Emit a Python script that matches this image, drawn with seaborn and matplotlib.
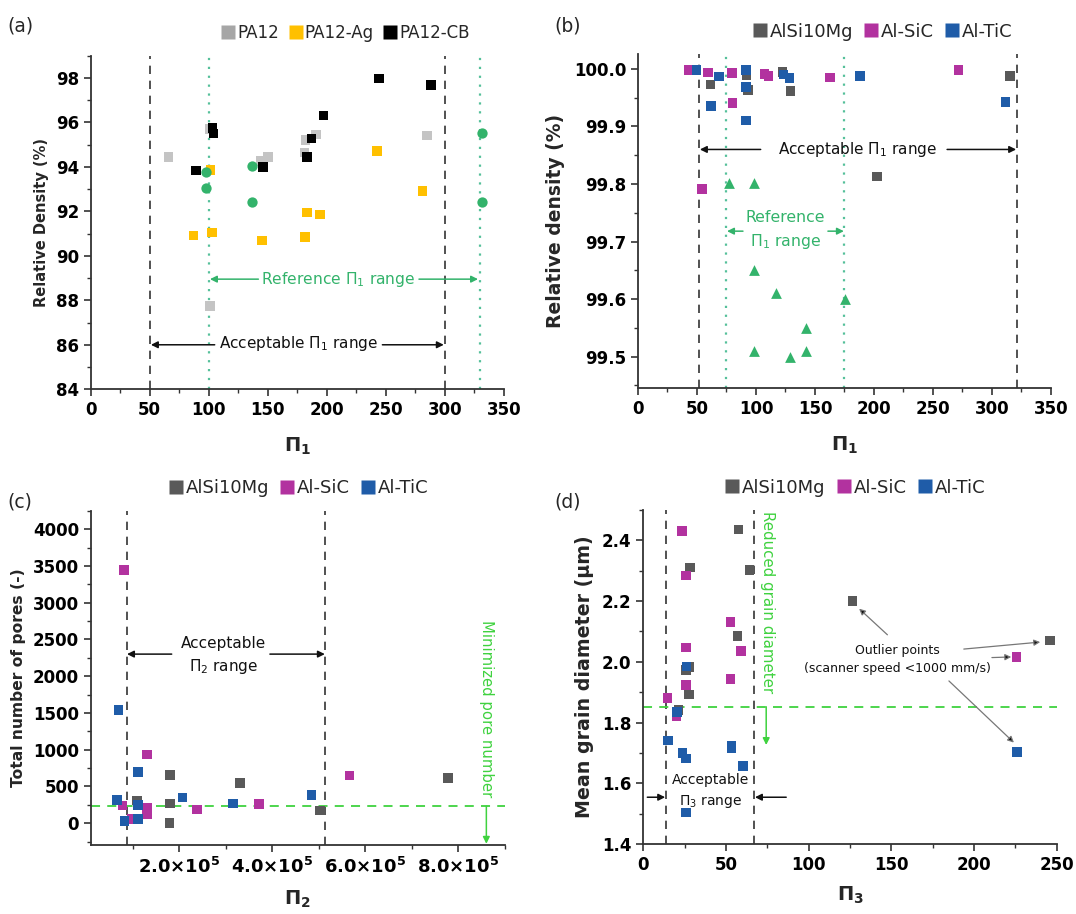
import numpy as np
import pandas as pd
import matplotlib
matplotlib.use("Agg")
import matplotlib.pyplot as plt
from matplotlib.lines import Line2D
from matplotlib.ticker import MultipleLocator, FixedLocator
import seaborn as sns

# ---------------- data ----------------
# panel (a)
pa12_x = [66, 101, 144, 150, 181, 182, 191, 285, 101]
pa12_y = [94.45, 95.7, 94.25, 94.45, 94.65, 95.2, 95.45, 95.4, 87.75]
pa12ag_x = [87, 102.5, 101.5, 145, 183, 181.5, 194, 242.5, 281]
pa12ag_y = [90.92, 91.05, 93.85, 90.68, 91.95, 90.85, 91.85, 94.72, 92.9]
pa12cb_x = [89, 103, 104, 146, 183, 187, 197, 244, 288]
pa12cb_y = [93.84, 95.75, 95.5, 93.98, 94.45, 95.28, 96.3, 97.97, 97.68]
ref_a_x = [98, 98, 136.5, 136.5, 331, 331]
ref_a_y = [93.75, 93.05, 94.03, 92.42, 95.52, 92.42]

# panel (b)
alsi_b_x = [61.6, 92.1, 93.2, 122.6, 129.4, 202.8, 315.3]
alsi_b_y = [99.973, 99.989, 99.963, 99.995, 99.962, 99.813, 99.988]
sic_b_x = [43.5, 59.3, 79.7, 80.2, 107.3, 110.7, 162.7, 271.8, 54.2]
sic_b_y = [99.998, 99.994, 99.993, 99.941, 99.991, 99.988, 99.985, 99.998, 99.791]
tic_b_x = [49.7, 68.9, 62.1, 91.5, 91.5, 91.5, 123.2, 128.5, 188.1, 311.6]
tic_b_y = [99.998, 99.987, 99.936, 99.998, 99.968, 99.910, 99.990, 99.984, 99.988, 99.942]
ref_b_x = [77.4, 98.6, 98.6, 116.9, 175.2, 142.1, 98.6, 128.6, 142.1]
ref_b_y = [99.801, 99.801, 99.651, 99.610, 99.600, 99.549, 99.510, 99.500, 99.510]

# panel (c)
alsi_c_x = [1.09e5, 1.80e5, 1.80e5, 1.79e5, 3.31e5, 5.03e5, 7.77e5]
alsi_c_y = [310, 652, 266, 4, 550, 173, 618]
sic_c_x = [0.81e5, 0.78e5, 0.98e5, 1.31e5, 1.31e5, 1.31e5, 2.39e5, 3.72e5, 5.66e5]
sic_c_y = [3441, 241, 60, 933, 206, 123, 187, 264, 650]
tic_c_x = [0.70e5, 0.67e5, 0.83e5, 1.12e5, 1.12e5, 1.12e5, 2.07e5, 3.16e5, 4.84e5]
tic_c_y = [1538, 314, 31, 693, 245, 57, 348, 268, 386]

# panel (d)
alsi_d_x = [57.5, 28.1, 57.0, 25.7, 27.7, 27.7, 21.3, 64.3, 126.5, 246]
alsi_d_y = [2.436, 2.311, 2.086, 1.974, 1.983, 1.892, 1.842, 2.303, 2.200, 2.070]
sic_d_x = [23.3, 25.7, 25.7, 25.7, 14.5, 20.1, 52.6, 52.6, 58.9, 225.7]
sic_d_y = [2.431, 2.284, 2.047, 1.924, 1.880, 1.820, 2.132, 1.943, 2.036, 2.016]
tic_d_x = [26.1, 20.5, 14.9, 23.7, 25.9, 25.7, 53.4, 53.4, 60.1, 226.1]
tic_d_y = [1.985, 1.835, 1.741, 1.700, 1.681, 1.504, 1.725, 1.714, 1.656, 1.703]

pa_labels = ["PA12", "PA12-Ag", "PA12-CB"]
al_labels = ["AlSi10Mg", "Al-SiC", "Al-TiC"]
c_xticks = [2e5, 4e5, 6e5, 8e5]
c_xticklabels = [r"2.0×10$^{\mathbf{5}}$", r"4.0×10$^{\mathbf{5}}$",
                 r"6.0×10$^{\mathbf{5}}$", r"8.0×10$^{\mathbf{5}}$"]

# ---------------- style ----------------
sns.set_theme(style="ticks")
plt.rcParams["font.family"] = ["DejaVu Sans"]
plt.rcParams["mathtext.fontset"] = "dejavusans"
plt.rcParams["axes.linewidth"] = 1.3
plt.rcParams["axes.edgecolor"] = "#333333"

pa_colors = {"PA12": "#c4c4c4", "PA12-Ag": "#ffc000", "PA12-CB": "#000000"}
pa_leg_colors = {"PA12": "#a6a6a6", "PA12-Ag": "#ffc000", "PA12-CB": "#000000"}
al_colors = {"AlSi10Mg": "#595959", "Al-SiC": "#b2329f", "Al-TiC": "#1f5ca8"}
ref_green = "#33b36b"
dot_green = "#55c09a"
lime = "#3fd23f"

TICK_FS = 12
ANN_FS = 11
fig = plt.figure(figsize=(10.76, 9.14), dpi=100)
ax_a = fig.add_axes([0.0843, 0.5741, 0.3841, 0.3651])
ax_b = fig.add_axes([0.5929, 0.5752, 0.3838, 0.3658])
ax_c = fig.add_axes([0.0843, 0.0752, 0.3850, 0.3660])
ax_d = fig.add_axes([0.5979, 0.0766, 0.3842, 0.3654])


def style_ax(ax):
    sns.despine(ax=ax)
    ax.tick_params(axis="both", which="major", direction="out", length=5, width=1.2,
                   labelsize=TICK_FS, colors="#333333", labelcolor="black")
    ax.tick_params(axis="both", which="minor", direction="out", length=3, width=1.0,
                   colors="#333333")
    for lab in ax.get_xticklabels() + ax.get_yticklabels():
        lab.set_fontweight("bold")


def legend_top(ax, labels, colors, xc, fs, y=1.04):
    handles = [Line2D([0], [0], marker="s", color="none", markerfacecolor=colors[l],
                      markeredgecolor="none", markersize=10.5) for l in labels]
    ax.legend(handles, labels, loc="lower center", bbox_to_anchor=(xc, y), ncol=3,
              frameon=False, fontsize=fs, handletextpad=0.05, columnspacing=0.5,
              borderaxespad=0, handlelength=1.0, borderpad=0)


def harrow(ax, x0, x1, y, color, lw=1.1):
    ax.annotate("", xy=(x1, y), xytext=(x0, y),
                arrowprops=dict(arrowstyle="-|>", color=color, lw=lw,
                                mutation_scale=10, shrinkA=0, shrinkB=0))


# ---------------- (a) ----------------
df_a = pd.DataFrame({
    "x": pa12_x + pa12ag_x + pa12cb_x,
    "y": pa12_y + pa12ag_y + pa12cb_y,
    "mat": ["PA12"] * len(pa12_x) + ["PA12-Ag"] * len(pa12ag_x) + ["PA12-CB"] * len(pa12cb_x),
})
sns.scatterplot(data=df_a, x="x", y="y", hue="mat", hue_order=pa_labels, palette=pa_colors,
                marker="s", s=48, linewidth=0, legend=False, ax=ax_a, zorder=3)
sns.scatterplot(x=ref_a_x, y=ref_a_y, color=ref_green, marker="o", s=55, linewidth=0,
                legend=False, ax=ax_a, zorder=4)
ax_a.set_xlim(0, 350)
ax_a.set_ylim(84, 99)
ax_a.xaxis.set_major_locator(MultipleLocator(50))
ax_a.xaxis.set_minor_locator(MultipleLocator(25))
ax_a.yaxis.set_major_locator(FixedLocator([84, 86, 88, 90, 92, 94, 96, 98]))
ax_a.yaxis.set_minor_locator(MultipleLocator(1))
for xv in (50, 300):
    ax_a.axvline(xv, color="#333333", ls=(0, (5, 4)), lw=1.2, zorder=1)
for xv in (100, 330):
    ax_a.axvline(xv, color=dot_green, ls=(0, (1, 3)), lw=1.6, zorder=1)
ax_a.text(210, 88.95, "Reference Π$_1$ range", color=ref_green, fontsize=ANN_FS + 0.2,
          ha="center", va="center")
harrow(ax_a, 142, 101, 88.95, ref_green)
harrow(ax_a, 278, 328, 88.95, ref_green)
ax_a.text(176, 86.05, "Acceptable Π$_1$ range", color="#111111", fontsize=ANN_FS,
          ha="center", va="center")
harrow(ax_a, 105, 51, 86.0, "#111111")
harrow(ax_a, 247, 299, 86.0, "#111111")
ax_a.set_xlabel("Π$_\\mathbf{1}$", fontsize=14, fontweight="bold", labelpad=12)
ax_a.set_ylabel("Relative Density (%)", fontsize=10.5, fontweight="bold", labelpad=5)
style_ax(ax_a)
legend_top(ax_a, pa_labels, pa_leg_colors, 0.615, 12)
fig.text(0.007, 0.965, "(a)", fontsize=13.5)

# ---------------- (b) ----------------
df_b = pd.DataFrame({
    "x": alsi_b_x + sic_b_x + tic_b_x,
    "y": alsi_b_y + sic_b_y + tic_b_y,
    "mat": ["AlSi10Mg"] * len(alsi_b_x) + ["Al-SiC"] * len(sic_b_x) + ["Al-TiC"] * len(tic_b_x),
})
sns.scatterplot(data=df_b, x="x", y="y", hue="mat", hue_order=al_labels, palette=al_colors,
                marker="s", s=48, linewidth=0, legend=False, ax=ax_b, zorder=3)
sns.scatterplot(x=ref_b_x, y=ref_b_y, color=ref_green, marker="^", s=60, linewidth=0,
                legend=False, ax=ax_b, zorder=4)
ax_b.set_xlim(0, 350)
ax_b.set_ylim(99.445, 100.026)
ax_b.xaxis.set_major_locator(MultipleLocator(50))
ax_b.xaxis.set_minor_locator(MultipleLocator(25))
ax_b.yaxis.set_major_locator(FixedLocator([99.5, 99.6, 99.7, 99.8, 99.9, 100.0]))
ax_b.yaxis.set_minor_locator(FixedLocator([99.45, 99.55, 99.65, 99.75, 99.85, 99.95]))
ax_b.yaxis.set_major_formatter(plt.FormatStrFormatter("%.1f"))
for xv in (52, 321):
    ax_b.axvline(xv, color="#333333", ls=(0, (5, 4)), lw=1.2, zorder=1)
for xv in (75, 175):
    ax_b.axvline(xv, color=dot_green, ls=(0, (1, 3)), lw=1.6, zorder=1)
ax_b.text(186, 99.860, "Acceptable Π$_1$ range", color="#111111", fontsize=ANN_FS,
          ha="center", va="center")
harrow(ax_b, 104, 52.5, 99.860, "#111111")
harrow(ax_b, 262, 320.5, 99.860, "#111111")
ax_b.text(125, 99.742, "Reference", color=ref_green, fontsize=ANN_FS + 0.3, ha="center", va="center")
ax_b.text(125, 99.700, "Π$_1$ range", color=ref_green, fontsize=ANN_FS + 0.3, ha="center", va="center")
harrow(ax_b, 89, 75.5, 99.718, ref_green)
harrow(ax_b, 161, 174.5, 99.718, ref_green)
ax_b.set_xlabel("Π$_\\mathbf{1}$", fontsize=14, fontweight="bold", labelpad=12)
ax_b.set_ylabel("Relative density (%)", fontsize=13.5, fontweight="bold", labelpad=6)
style_ax(ax_b)
legend_top(ax_b, al_labels, al_colors, 0.59, 13)
fig.text(0.515, 0.965, "(b)", fontsize=13.5)

# ---------------- (c) ----------------
df_c = pd.DataFrame({
    "x": alsi_c_x + sic_c_x + tic_c_x,
    "y": alsi_c_y + sic_c_y + tic_c_y,
    "mat": ["AlSi10Mg"] * len(alsi_c_x) + ["Al-SiC"] * len(sic_c_x) + ["Al-TiC"] * len(tic_c_x),
})
sns.scatterplot(data=df_c, x="x", y="y", hue="mat", hue_order=al_labels, palette=al_colors,
                marker="s", s=48, linewidth=0, legend=False, ax=ax_c, zorder=3)
ax_c.set_xlim(1e4, 9e5)
ax_c.set_ylim(-300, 4250)
ax_c.xaxis.set_major_locator(FixedLocator(c_xticks))
ax_c.set_xticklabels(c_xticklabels)
ax_c.xaxis.set_minor_locator(FixedLocator([1e5, 3e5, 5e5, 7e5, 9e5]))
ax_c.yaxis.set_major_locator(MultipleLocator(500))
ax_c.yaxis.set_minor_locator(MultipleLocator(250))
for xv in (0.87e5, 5.14e5):
    ax_c.axvline(xv, color="#333333", ls=(0, (5, 4)), lw=1.2, zorder=1)
ax_c.axhline(232, color=lime, ls=(0, (5, 4)), lw=1.3, zorder=1)
ax_c.text(2.95e5, 2450, "Acceptable", color="#111111", fontsize=ANN_FS, ha="center", va="center")
ax_c.text(2.95e5, 2130, "Π$_2$ range", color="#111111", fontsize=ANN_FS, ha="center", va="center")
harrow(ax_c, 1.84e5, 0.88e5, 2300, "#111111")
harrow(ax_c, 3.95e5, 5.13e5, 2300, "#111111")
ax_c.text(8.6e5, 1560, "Minimized pore number", color=lime, fontsize=10.7, rotation=-90,
          ha="center", va="center")
ax_c.annotate("", xy=(8.6e5, -280), xytext=(8.6e5, 232),
              arrowprops=dict(arrowstyle="-|>", color=lime, lw=1.1, mutation_scale=10,
                              shrinkA=0, shrinkB=0))
ax_c.set_xlabel("Π$_\\mathbf{2}$", fontsize=14, fontweight="bold", labelpad=8)
ax_c.set_ylabel("Total number of pores (-)", fontsize=11.2, fontweight="bold", labelpad=5)
style_ax(ax_c)
for lab in ax_c.get_xticklabels():
    lab.set_fontsize(13)
legend_top(ax_c, al_labels, al_colors, 0.50, 13)
fig.text(0.007, 0.445, "(c)", fontsize=13.5)

# ---------------- (d) ----------------
df_d = pd.DataFrame({
    "x": alsi_d_x + sic_d_x + tic_d_x,
    "y": alsi_d_y + sic_d_y + tic_d_y,
    "mat": ["AlSi10Mg"] * len(alsi_d_x) + ["Al-SiC"] * len(sic_d_x) + ["Al-TiC"] * len(tic_d_x),
})
sns.scatterplot(data=df_d, x="x", y="y", hue="mat", hue_order=al_labels, palette=al_colors,
                marker="s", s=48, linewidth=0, legend=False, ax=ax_d, zorder=3)
ax_d.set_xlim(0, 250)
ax_d.set_ylim(1.4, 2.5)
ax_d.xaxis.set_major_locator(MultipleLocator(50))
ax_d.xaxis.set_minor_locator(MultipleLocator(25))
ax_d.yaxis.set_major_locator(FixedLocator([1.4, 1.6, 1.8, 2.0, 2.2, 2.4]))
ax_d.yaxis.set_minor_locator(FixedLocator([1.5, 1.7, 1.9, 2.1, 2.3, 2.5]))
ax_d.yaxis.set_major_formatter(plt.FormatStrFormatter("%.1f"))
for xv in (13.6, 67):
    ax_d.axvline(xv, color="#333333", ls=(0, (5, 4)), lw=1.2, zorder=1)
ax_d.axhline(1.852, color=lime, ls=(0, (5, 4)), lw=1.3, zorder=1)
ax_d.text(75.3, 2.196, "Reduced grain diameter", color=lime, fontsize=10.8, rotation=-90,
          ha="center", va="center")
ax_d.annotate("", xy=(74.3, 1.726), xytext=(74.3, 1.852),
              arrowprops=dict(arrowstyle="-|>", color=lime, lw=1.1, mutation_scale=10,
                              shrinkA=0, shrinkB=0))
ax_d.text(40.6, 1.611, "Acceptable", color="#111111", fontsize=10, ha="center", va="center")
ax_d.text(40.6, 1.539, "Π$_3$ range", color="#111111", fontsize=10, ha="center", va="center")
harrow(ax_d, 2.4, 13.2, 1.554, "#111111")
harrow(ax_d, 86.4, 67.5, 1.554, "#111111")
ax_d.text(153.6, 2.036, "Outlier points", color="#111111", fontsize=9, ha="center", va="center")
ax_d.text(153.6, 1.977, "(scanner speed <1000 mm/s)", color="#111111", fontsize=9,
          ha="center", va="center")
for (x0, y0, x1, y1) in [(147.6, 2.089, 130.5, 2.175), (193.8, 2.042, 240, 2.065),
                         (210.8, 2.014, 222.5, 2.016), (184.8, 1.937, 224.1, 1.734)]:
    ax_d.annotate("", xy=(x1, y1), xytext=(x0, y0),
                  arrowprops=dict(arrowstyle="-|>", color="#777777", lw=0.9,
                                  mutation_scale=9, shrinkA=0, shrinkB=0,
                                  fc="#111111", ec="#777777"))
ax_d.set_xlabel("Π$_\\mathbf{3}$", fontsize=14, fontweight="bold", labelpad=8)
ax_d.set_ylabel("Mean grain diameter (μm)", fontsize=13.7, fontweight="bold", labelpad=6)
style_ax(ax_d)
legend_top(ax_d, al_labels, al_colors, 0.51, 13)
fig.text(0.515, 0.445, "(d)", fontsize=13.5)

fig.savefig("out.png", dpi=100)
